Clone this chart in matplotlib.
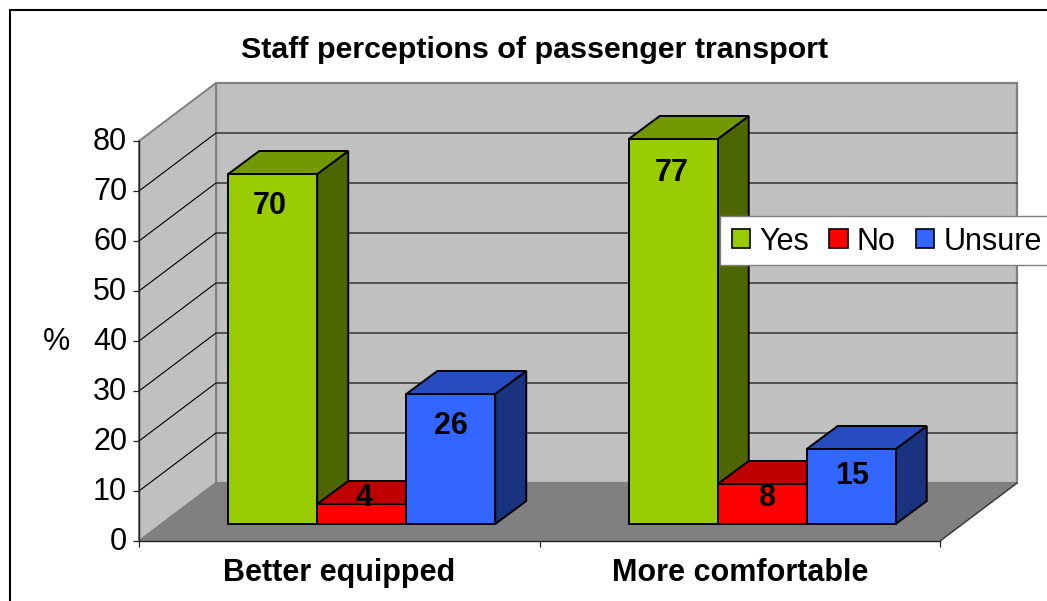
import matplotlib
matplotlib.use("Agg")
import matplotlib.pyplot as plt
from matplotlib.patches import Rectangle, Patch
from matplotlib.transforms import ScaledTranslation

plt.rcParams['font.family'] = ['Liberation Sans', 'DejaVu Sans']

title = "Staff perceptions of passenger transport"
categories = ["Better equipped", "More comfortable"]
series_names = ["Yes", "No", "Unsure"]
yes = [70, 77]
no = [4, 8]
unsure = [26, 15]
y_ticks = [0, 10, 20, 30, 40, 50, 60, 70, 80]

W, H = 1047, 601
PX_X = 400.5   # pixels per category
PX_Y = 5.0     # pixels per percent
fig = plt.figure(figsize=(W / 100, H / 100), dpi=100, facecolor="white")
ax = fig.add_axes([139 / W, (H - 541) / H, 2 * PX_X / W, 80 * PX_Y / H])
ax.set_xlim(0, 2)
ax.set_ylim(0, 80)
ax.patch.set_visible(False)

def dx(px):
    return px / PX_X

def dy(px):
    return px / PX_Y

BX, BY = dx(77), dy(58)          # oblique offset of the back wall
FX, FY = dx(22.5), dy(17)        # offset of the bars from the front edge
DX, DY = dx(31), dy(23)          # bar depth
BW = dx(89)
GRAY = "#808080"
WALL = "#C0C0C0"

# Walls and floor
ax.fill([BX, 2 + BX, 2 + BX, BX], [BY, BY, 80 + BY, 80 + BY], fc=WALL, ec=GRAY, lw=1.6, clip_on=False, zorder=1)
ax.fill([0, BX, BX, 0], [0, BY, 80 + BY, 80], fc=WALL, ec=GRAY, lw=1.4, clip_on=False, zorder=1)
ax.fill([0, 2, 2 + BX, BX], [0, 0, BY, BY], fc=GRAY, ec=GRAY, lw=1, clip_on=False, zorder=1)
ax.plot([2, 2 + BX], [0, BY], color="#333333", lw=0.9, clip_on=False, zorder=1.5)
for v in y_ticks[1:-1]:
    ax.plot([0, BX, 2 + BX], [v, v + BY, v + BY], color="black", lw=0.8, clip_on=False, zorder=1.5)

colors = [("#99CC00", "#729900", "#4D6600"),
          ("#FF0000", "#BF0000", "#800000"),
          ("#3366FF", "#264CBF", "#1A3380")]
series = [yes, no, unsure]
# small per-label nudges (pixels) and their drop below the bar top
label_nudge = [[(-3, -32), (2.5, 6), (0, -32)],
               [(-1.5, -34), (5.5, -14), (1, -27)]]

for g in range(len(categories)):
    left = g + 0.5 + FX - 1.5 * BW
    for s, vals in enumerate(series):
        x0 = left + s * BW
        x1 = x0 + BW
        y0 = FY
        y1 = FY + vals[g]
        front, top, side = colors[s]
        kw = dict(ec="black", lw=1.4, joinstyle="miter", clip_on=False, zorder=3 + s * 0.1 + g)
        ax.fill([x1, x1 + DX, x1 + DX, x1], [y0, y0 + DY, y1 + DY, y1], fc=side, **kw)
        ax.fill([x0, x1, x1 + DX, x0 + DX], [y1, y1, y1 + DY, y1 + DY], fc=top, **kw)
        ax.fill([x0, x1, x1, x0], [y0, y0, y1, y1], fc=front, **kw)
    for s, vals in enumerate(series):
        x0 = left + s * BW
        nx, ny = label_nudge[g][s]
        ax.annotate(str(vals[g]), xy=(x0 + BW / 2, FY + vals[g]),
                    xytext=(nx * 0.72, ny * 0.72), textcoords="offset points",
                    ha="center", va="center", fontsize=22, fontweight="bold",
                    color="black", zorder=10, annotation_clip=False)

# Axes
ax.set_xticks([0, 1, 2])
ax.set_xticklabels([])
ax.set_yticks(y_ticks)
ax.tick_params(axis="y", labelsize=22, length=4.5, width=0.9, pad=4, color="#222222")
ax.tick_params(axis="x", length=4.5, width=0.9, color="#222222")
for lab in ax.get_yticklabels():
    lab.set_transform(lab.get_transform() + ScaledTranslation(0, 2 / 100, fig.dpi_scale_trans))
for name in ("top", "right"):
    ax.spines[name].set_visible(False)
for name in ("left", "bottom"):
    ax.spines[name].set_linewidth(1.0)
    ax.spines[name].set_color("#222222")
    ax.spines[name].set_zorder(2)

for g, c in enumerate(categories):
    ax.text(g + 0.5, -0.08, c, transform=ax.get_xaxis_transform(), ha="center", va="center",
            fontsize=22, fontweight="bold")

fig.text(57 / W, 1 - 342 / H, "%", ha="center", va="center", fontsize=22)
fig.text(535 / W, 1 - 50 / H, title, ha="center", va="center", fontsize=21.9, fontweight="bold")

# Legend: the box runs off the right edge of the picture
fig.add_artist(Rectangle((720 / W, 1 - 265 / H), 340 / W, 49 / H, transform=fig.transFigure,
                         fc="white", ec=GRAY, lw=1.0, zorder=19))
handles = [Patch(fc=colors[i][0], ec="black", lw=1.2) for i in range(3)]
leg = fig.legend(handles, series_names, loc="center left", ncol=3,
                 bbox_to_anchor=(732 / W, 1 - 241.5 / H), frameon=False,
                 fontsize=22, handlelength=0.6, handleheight=0.6, handletextpad=0.3,
                 columnspacing=0.66, borderpad=0, borderaxespad=0)
leg.set_zorder(20)

# Outer frame
fig.add_artist(Rectangle((9.5 / W, -0.1), 1.1, 1 - 10 / H + 0.1, transform=fig.transFigure,
                         fc="none", ec="black", lw=1.5, zorder=30))

fig.savefig("out.png", dpi=100)
